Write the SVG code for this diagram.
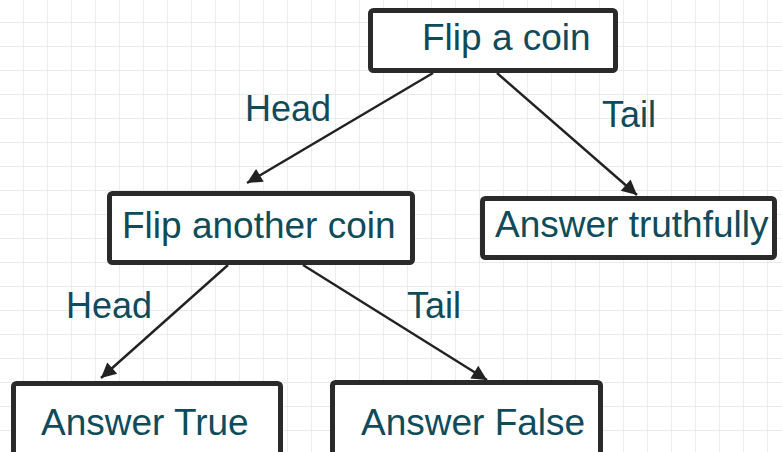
<svg xmlns="http://www.w3.org/2000/svg" width="782" height="452" viewBox="0 0 782 452">
  <style>
    .box { fill: #ffffff; stroke: #2a2a2a; stroke-width: 5; }
    .txt { font-family: "Liberation Sans", Arial, sans-serif; font-size: 37px; fill: #0f4b5a; }
    .lbl { font-family: "Liberation Sans", Arial, sans-serif; font-size: 36px; fill: #0f4b5a; }
    .edge { stroke: #222222; stroke-width: 2.4; fill: none; marker-end: url(#arrow); }
  </style>
  <defs>
    <pattern id="grid" x="0" y="-1" width="24" height="24" patternUnits="userSpaceOnUse">
      <path d="M24 0 V24 M0 24 H24" stroke="#e3e3e3" stroke-width="1.3" fill="none"/>
    </pattern>
    <marker id="arrow" viewBox="0 0 10 10" refX="10" refY="5" markerWidth="19" markerHeight="15" markerUnits="userSpaceOnUse" orient="auto">
      <path d="M0,0 L10,5 L0,10 z" fill="#222222"/>
    </marker>
  </defs>
  <rect x="0" y="0" width="782" height="452" fill="#ffffff"/>
  <rect x="0" y="0" width="782" height="452" fill="url(#grid)"/>

  <g id="connectors">
    <line class="edge" x1="433" y1="73" x2="247" y2="183"/>
    <line class="edge" x1="497" y1="73" x2="637" y2="195"/>
    <line class="edge" x1="228" y1="265" x2="101" y2="378"/>
    <line class="edge" x1="303" y1="265" x2="487" y2="380"/>
    <text class="lbl" x="245" y="121">Head</text>
    <text class="lbl" x="602" y="127">Tail</text>
    <text class="lbl" x="66" y="318">Head</text>
    <text class="lbl" x="407" y="318">Tail</text>
  </g>

  <g id="flip-a-coin">
    <rect class="box" x="370.5" y="10.5" width="245" height="60" rx="3"/>
    <text class="txt" x="422" y="50">Flip a coin</text>
  </g>
  <g id="flip-another-coin">
    <rect class="box" x="109.5" y="193.5" width="303" height="69" rx="3"/>
    <text class="txt" x="122" y="238">Flip another coin</text>
  </g>
  <g id="answer-truthfully">
    <rect class="box" x="482.5" y="198.5" width="292" height="59" rx="3"/>
    <text class="txt" x="495" y="237">Answer truthfully</text>
  </g>
  <g id="answer-true">
    <rect class="box" x="13.5" y="383.5" width="267" height="80" rx="3"/>
    <text class="txt" x="41" y="435">Answer True</text>
  </g>
  <g id="answer-false">
    <rect class="box" x="332.5" y="382.5" width="268" height="80" rx="3"/>
    <text class="txt" x="361" y="435">Answer False</text>
  </g>
</svg>
